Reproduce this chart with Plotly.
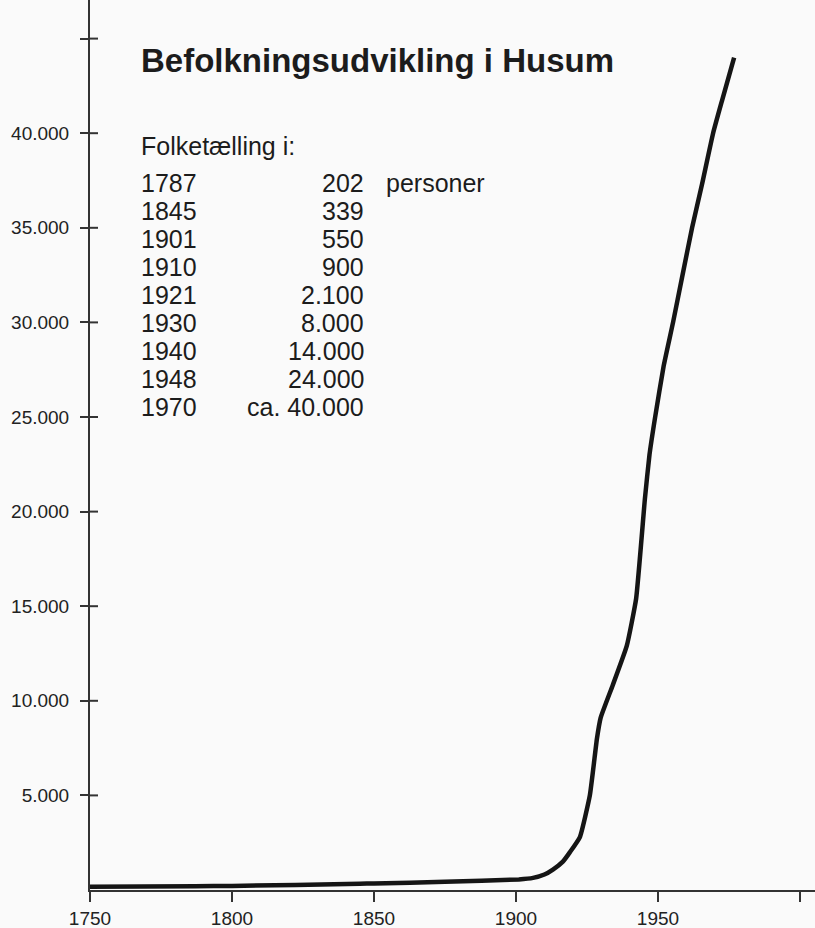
import plotly.graph_objects as go

# Curve (year, population)
years = [1750, 1787, 1800, 1845, 1850, 1875, 1901, 1906, 1910, 1913, 1916.5, 1919, 1922.5, 1926, 1928.5, 1929.8,
         1934, 1939, 1942.3, 1945.4, 1947, 1949, 1952, 1955.3, 1958.5, 1962, 1965.5, 1969.4, 1972.5, 1976.8]
population = [170, 202, 215, 330, 350, 430, 560, 640, 820, 1080, 1500, 2000, 2800, 5000, 8000, 9100,
              10800, 12900, 15400, 20700, 23000, 25000, 27700, 30000, 32400, 35000, 37300, 40000, 41700, 44000]

# Census table
census_years = ["1787", "1845", "1901", "1910", "1921", "1930", "1940", "1948", "1970"]
census_values = ["202", "339", "550", "900", "2.100", "8.000", "14.000", "24.000", "ca. 40.000"]

title_text = "Befolkningsudvikling i Husum"
table_header = "Folketælling i:"
unit_text = "personer"

x_ticks = [1750, 1800, 1850, 1900, 1950, 2000]
x_ticktext = ["1750", "1800", "1850", "1900", "1950", ""]
y_ticks = [5000, 10000, 15000, 20000, 25000, 30000, 35000, 40000, 45000]
y_ticktext = ["5.000", "10.000", "15.000", "20.000", "25.000", "30.000", "35.000", "40.000", ""]

W, H = 815, 928
L, B = 90, 38
PW, PH = W - L, H - B


def px(xp):
    return (xp - L) / PW


def py(yp):
    return (PH - yp) / PH


FONT = "Liberation Sans, Arial, Helvetica, sans-serif"
AX = "#333333"
TXT = "#1c1c1c"

fig = go.Figure()
fig.add_trace(go.Scatter(x=years, y=population, mode="lines",
                         line=dict(color="#151515", width=4.5, shape="spline", smoothing=0.4),
                         hoverinfo="skip", showlegend=False))

annotations = [
    dict(text="<b>" + title_text + "</b>", x=px(139), y=py(60), xanchor="left", yanchor="middle",
         font=dict(size=33, color=TXT, family=FONT)),
    dict(text=table_header, x=px(139), y=py(146), xanchor="left", yanchor="middle",
         font=dict(size=25, color=TXT, family=FONT)),
]
for i, (yr, val) in enumerate(zip(census_years, census_values)):
    yc = 183 + i * 28.0
    annotations.append(dict(text=yr, x=px(139), y=py(yc), xanchor="left", yanchor="middle",
                            font=dict(size=25, color=TXT, family=FONT)))
    annotations.append(dict(text=val, x=px(366), y=py(yc), xanchor="right", yanchor="middle",
                            font=dict(size=25, color=TXT, family=FONT)))
    if i == 0:
        annotations.append(dict(text=unit_text, x=px(384), y=py(yc), xanchor="left", yanchor="middle",
                                font=dict(size=25, color=TXT, family=FONT)))
for a in annotations:
    a.update(xref="paper", yref="paper", showarrow=False)

# inner halves of the cross-shaped y ticks (axis decoration at the tick values)
shapes = [dict(type="line", xref="paper", yref="y", x0=0, x1=8 / PW, y0=v, y1=v,
               line=dict(color=AX, width=2)) for v in y_ticks]

yr_max = PH / 94.6 * 5000
xr_max = 1750 + PW / 2.84

fig.update_layout(
    width=W, height=H,
    margin=dict(l=L, r=0, t=0, b=B),
    paper_bgcolor="#fafafa", plot_bgcolor="#fafafa",
    annotations=annotations,
    shapes=shapes,
    xaxis=dict(range=[1750, xr_max], tickvals=x_ticks, ticktext=x_ticktext,
               ticks="outside", ticklen=10, tickwidth=1.5, tickcolor=AX,
               showline=True, linecolor=AX, linewidth=2, showgrid=False, zeroline=False,
               tickfont=dict(size=19, color="#222222", family=FONT), fixedrange=True),
    yaxis=dict(range=[0, yr_max], tickvals=y_ticks, ticktext=y_ticktext,
               ticks="outside", ticklen=8, tickwidth=2, tickcolor=AX,
               showline=True, linecolor=AX, linewidth=2, showgrid=False, zeroline=False,
               ticklabelstandoff=7,
               tickfont=dict(size=19, color="#222222", family=FONT), fixedrange=True),
)

fig.write_html("out.html", config={"displayModeBar": False},
               post_script="document.body.style.margin='0';document.body.style.padding='0';"
                           "document.body.style.overflow='hidden';")
